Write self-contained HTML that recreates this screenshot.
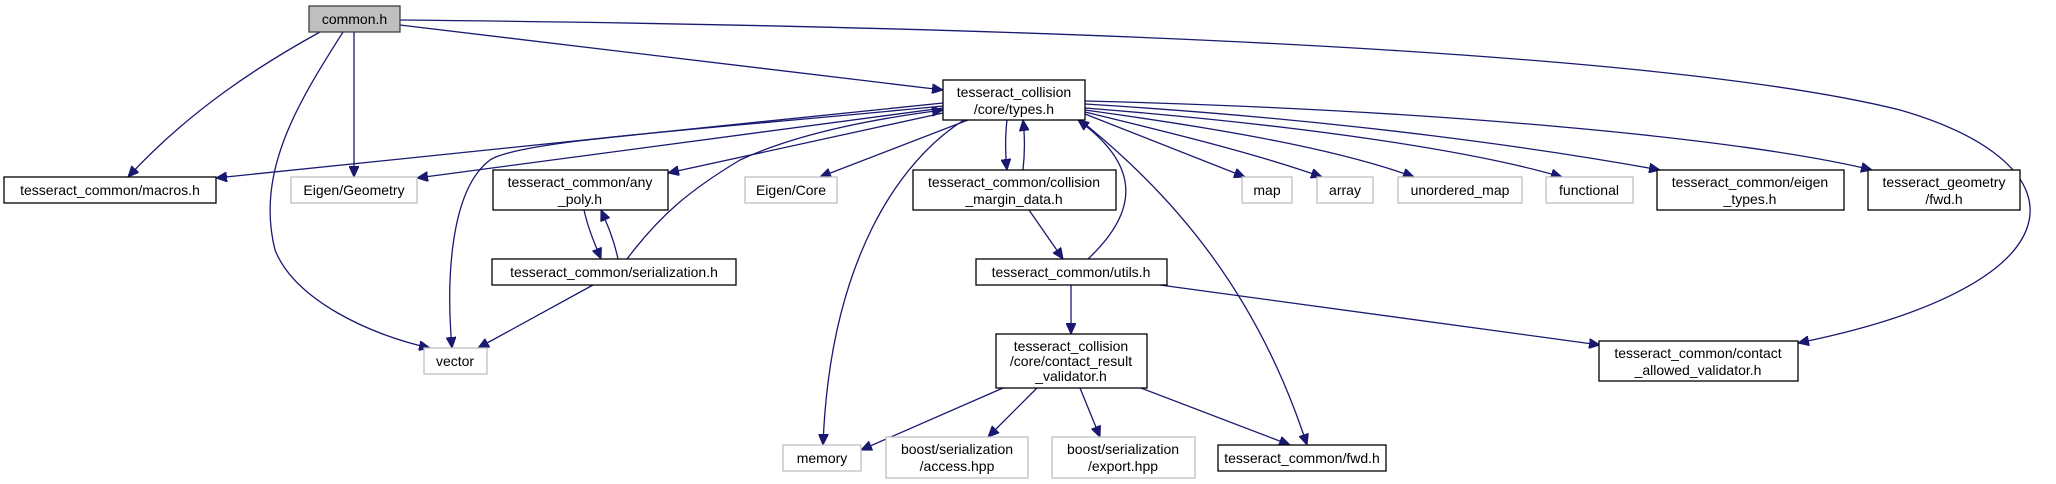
<!DOCTYPE html>
<html><head><meta charset="utf-8"><style>
html,body{margin:0;padding:0;background:#fff;}
svg{display:block;}
text{font-family:"Liberation Sans",sans-serif;font-size:14px;fill:#000;text-anchor:middle;}
.e{fill:none;stroke:#191970;stroke-width:1.3;}
.n{fill:#fff;stroke:#000;stroke-width:1.3;}
.g{fill:#fff;stroke:#bfbfbf;stroke-width:1.3;}
</style></head><body>
<svg width="2056" height="484" viewBox="0 0 2056 484" xmlns="http://www.w3.org/2000/svg">
<defs>
<marker id="a" markerWidth="12" markerHeight="10" refX="11" refY="5" orient="auto" markerUnits="userSpaceOnUse">
<path d="M0,0 L11,5 L0,10 Z" fill="#191970" stroke="#191970"/>
</marker>
</defs>
<g marker-end="url(#a)">
<path class="e" d="M320,32 C260,65 190,110 128,177"/>
<path class="e" d="M354,32 L354,177"/>
<path class="e" d="M343,32 C300,100 255,170 275,250 C295,300 370,335 430,348"/>
<path class="e" d="M400,25 L943,90"/>
<path class="e" d="M400,20 C1200,28 1700,60 1900,110 C2090,165 2085,285 1798,343"/>
<path class="e" d="M943,103 L216,178"/>
<path class="e" d="M943,108 L417,178"/>
<path class="e" d="M943,113 L668,173"/>
<path class="e" d="M943,106 C700,130 520,140 490,160 C450,190 446,280 452,348"/>
<path class="e" d="M627,259 C660,215 690,190 740,160 C800,132 880,118 943,110"/>
<path class="e" d="M584,210 C588,228 594,242 601,259"/>
<path class="e" d="M618,259 C614,240 608,226 601,210"/>
<path class="e" d="M593,285 L478,348"/>
<path class="e" d="M968,120 L820,177"/>
<path class="e" d="M964,120 C900,160 830,260 823,445"/>
<path class="e" d="M1007,120 C1005,137 1005,152 1007,170"/>
<path class="e" d="M1023,170 C1025,152 1025,137 1023,120"/>
<path class="e" d="M1029,210 L1063,259"/>
<path class="e" d="M1088,259 C1140,210 1140,165 1078,120"/>
<path class="e" d="M1080,120 C1180,200 1260,300 1307,445"/>
<path class="e" d="M1085,114 L1245,177"/>
<path class="e" d="M1085,112 C1180,135 1260,155 1322,177"/>
<path class="e" d="M1085,110 C1230,130 1340,150 1414,177"/>
<path class="e" d="M1085,108 C1300,125 1470,150 1562,177"/>
<path class="e" d="M1085,104 C1350,120 1550,150 1660,170"/>
<path class="e" d="M1085,101 C1450,110 1750,140 1872,170"/>
<path class="e" d="M1071,285 L1071,334"/>
<path class="e" d="M1160,285 L1600,345"/>
<path class="e" d="M1003,388 L861,450"/>
<path class="e" d="M1037,388 L988,437"/>
<path class="e" d="M1080,388 L1100,437"/>
<path class="e" d="M1141,388 L1290,445"/>
</g>
<rect x="309" y="6" width="91" height="26" fill="#bfbfbf" stroke="#404040" stroke-width="1.3"/>
<text x="354.5" y="24">common.h</text>
<rect class="n" x="943" y="80" width="142" height="40"/>
<text x="1014" y="97">tesseract_collision</text><text x="1014" y="114">/core/types.h</text>
<rect class="n" x="4" y="177" width="212" height="26"/>
<text x="110" y="195">tesseract_common/macros.h</text>
<rect class="g" x="291" y="177" width="126" height="26"/>
<text x="354" y="195">Eigen/Geometry</text>
<rect class="n" x="493" y="170" width="175" height="40"/>
<text x="580" y="187">tesseract_common/any</text><text x="580" y="204">_poly.h</text>
<rect class="g" x="745" y="177" width="92" height="26"/>
<text x="791" y="195">Eigen/Core</text>
<rect class="n" x="913" y="170" width="203" height="40"/>
<text x="1014" y="187">tesseract_common/collision</text><text x="1014" y="204">_margin_data.h</text>
<rect class="g" x="1242" y="177" width="50" height="26"/>
<text x="1267" y="195">map</text>
<rect class="g" x="1317" y="177" width="56" height="26"/>
<text x="1345" y="195">array</text>
<rect class="g" x="1398" y="177" width="124" height="26"/>
<text x="1460" y="195">unordered_map</text>
<rect class="g" x="1546" y="177" width="87" height="26"/>
<text x="1589" y="195">functional</text>
<rect class="n" x="1657" y="170" width="187" height="40"/>
<text x="1750" y="187">tesseract_common/eigen</text><text x="1750" y="204">_types.h</text>
<rect class="n" x="1868" y="170" width="152" height="40"/>
<text x="1944" y="187">tesseract_geometry</text><text x="1944" y="204">/fwd.h</text>
<rect class="n" x="492" y="259" width="244" height="26"/>
<text x="614" y="277">tesseract_common/serialization.h</text>
<rect class="n" x="976" y="259" width="191" height="26"/>
<text x="1071" y="277">tesseract_common/utils.h</text>
<rect class="n" x="1599" y="341" width="199" height="40"/>
<text x="1698" y="358">tesseract_common/contact</text><text x="1698" y="375">_allowed_validator.h</text>
<rect class="g" x="424" y="348" width="63" height="26"/>
<text x="455" y="366">vector</text>
<rect class="n" x="996" y="334" width="151" height="54"/>
<text x="1071" y="351">tesseract_collision</text><text x="1071" y="366">/core/contact_result</text><text x="1071" y="381">_validator.h</text>
<rect class="g" x="783" y="445" width="78" height="26"/>
<text x="822" y="463">memory</text>
<rect class="g" x="886" y="437" width="142" height="41"/>
<text x="957" y="454">boost/serialization</text><text x="957" y="471">/access.hpp</text>
<rect class="g" x="1052" y="437" width="143" height="41"/>
<text x="1123" y="454">boost/serialization</text><text x="1123" y="471">/export.hpp</text>
<rect class="n" x="1218" y="445" width="168" height="26"/>
<text x="1302" y="463">tesseract_common/fwd.h</text>
</svg>
</body></html>
